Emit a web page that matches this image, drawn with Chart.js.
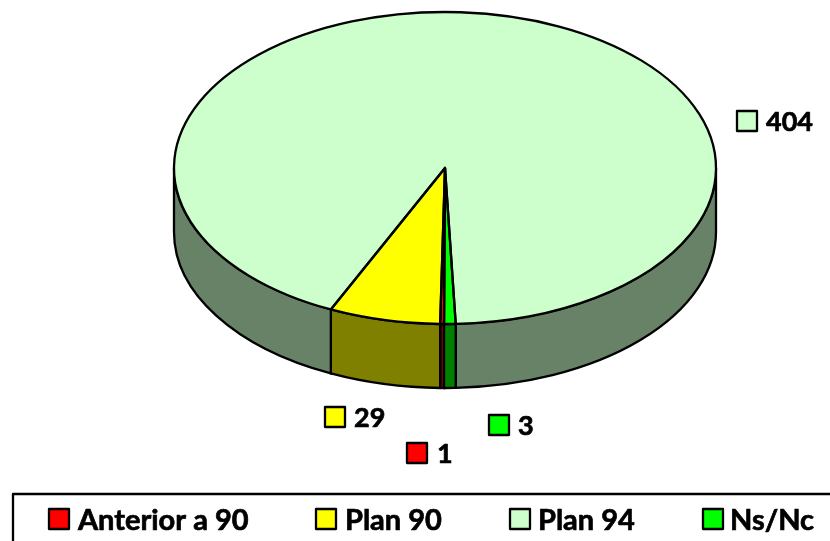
<!DOCTYPE html>
<html>
<head>
<meta charset="utf-8">
<script src="https://cdn.jsdelivr.net/npm/chart.js@4"></script>
<style>
  html, body { margin: 0; padding: 0; background: #fff; overflow: hidden; }
  canvas { display: block; }
</style>
</head>
<body>
<canvas id="pieChart" width="830" height="541"></canvas>
<script>
const categories = ["Anterior a 90", "Plan 90", "Plan 94", "Ns/Nc"];
const values = [1, 29, 404, 3];
const topColors = ["#ff0000", "#ffff00", "#ccffcc", "#00ff00"];
const wallColors = ["#800000", "#808000", "#678267", "#008000"];

// the pie is laid out as a circle, then stretched sideways into the tilted ellipse
const STRETCH = 271 / 156;
const DEPTH = 64;
const LINE = 2.3;
const LABEL_FONT = "bold 27px Lato";
const LEGEND_FONT = "bold 29px Lato";

const labelSpots = [
  { box: [407, 443], text: 437 },
  { box: [325, 407], text: 354 },
  { box: [737, 111], text: 766 },
  { box: [489, 415], text: 518 }
];
const legendSpots = [
  { box: 49, text: 78 },
  { box: 316, text: 345 },
  { box: 510, text: 538 },
  { box: 703, text: 730 }
];

function drawSwatch(ctx, x, y, color) {
  ctx.fillStyle = color;
  ctx.fillRect(x, y, 20, 20);
  ctx.strokeStyle = "#000";
  ctx.lineWidth = LINE;
  ctx.strokeRect(x, y, 20, 20);
}

// Lato Bold is lighter than the original face, so thicken it a little
function drawText(ctx, text, x, y) {
  ctx.fillStyle = "#000";
  ctx.strokeStyle = "#000";
  ctx.lineWidth = 0.7;
  ctx.fillText(text, x, y);
  ctx.strokeText(text, x, y);
}

const pie3d = {
  id: "pie3d",
  beforeDatasetsDraw(chart) {
    const ctx = chart.ctx;
    const arcs = chart.getDatasetMeta(0).data;

    // side wall, only where a slice faces the viewer
    arcs.forEach((arc, i) => {
      const rx = arc.outerRadius * STRETCH;
      const ry = arc.outerRadius;
      for (let k = -1; k <= 1; k++) {
        const from = Math.max(arc.startAngle, k * 2 * Math.PI);
        const to = Math.min(arc.endAngle, k * 2 * Math.PI + Math.PI);
        if (to <= from) continue;
        ctx.beginPath();
        ctx.ellipse(arc.x, arc.y, rx, ry, 0, from, to);
        ctx.ellipse(arc.x, arc.y + DEPTH, rx, ry, 0, to, from, true);
        ctx.closePath();
        ctx.fillStyle = wallColors[i];
        ctx.fill();
        ctx.strokeStyle = "#000";
        ctx.lineWidth = LINE;
        ctx.stroke();
      }
    });

    const cx = arcs[0].x;
    ctx.save();
    ctx.translate(cx, 0);
    ctx.scale(STRETCH, 1);
    ctx.translate(-cx, 0);
  },
  afterDatasetsDraw(chart) {
    const ctx = chart.ctx;
    ctx.restore();

    // outlines go here so the stretch does not thicken them
    chart.getDatasetMeta(0).data.forEach((arc) => {
      ctx.beginPath();
      ctx.moveTo(arc.x, arc.y);
      ctx.ellipse(arc.x, arc.y, arc.outerRadius * STRETCH, arc.outerRadius, 0, arc.startAngle, arc.endAngle);
      ctx.closePath();
      ctx.strokeStyle = "#000";
      ctx.lineWidth = LINE;
      ctx.lineJoin = "round";
      ctx.stroke();
    });

    ctx.textBaseline = "middle";

    ctx.font = LABEL_FONT;
    values.forEach((v, i) => {
      const spot = labelSpots[i];
      drawSwatch(ctx, spot.box[0], spot.box[1], topColors[i]);
      drawText(ctx, String(v), spot.text, spot.box[1] + 11);
    });

    // legend frame runs off the right and bottom edges
    ctx.strokeStyle = "#000";
    ctx.lineWidth = LINE;
    ctx.beginPath();
    ctx.moveTo(13, 541);
    ctx.lineTo(13, 494);
    ctx.lineTo(830, 494);
    ctx.stroke();

    ctx.font = LEGEND_FONT;
    categories.forEach((name, i) => {
      const spot = legendSpots[i];
      drawSwatch(ctx, spot.box, 509, topColors[i]);
      drawText(ctx, name, spot.text, 521);
    });
  }
};

new Chart(document.getElementById("pieChart"), {
  type: "pie",
  data: {
    labels: categories,
    datasets: [{
      data: values,
      backgroundColor: topColors,
      borderWidth: 0
    }]
  },
  options: {
    responsive: false,
    animation: false,
    rotation: 180.2,
    layout: { padding: { top: 12, bottom: 217, left: 60, right: 0 } },
    plugins: {
      legend: { display: false },
      tooltip: { enabled: false }
    }
  },
  plugins: [pie3d]
});
</script>
</body>
</html>
